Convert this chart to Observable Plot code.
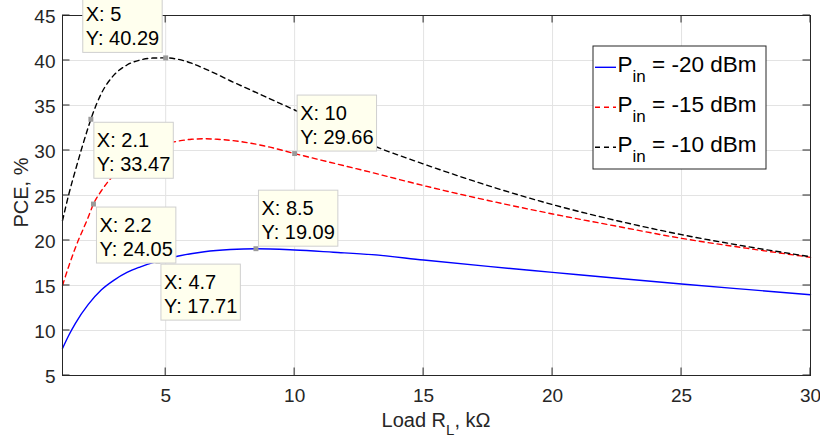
<!DOCTYPE html>
<html><head><meta charset="utf-8">
<script src="https://cdn.jsdelivr.net/npm/d3@7"></script>
<script src="https://cdn.jsdelivr.net/npm/@observablehq/plot@0.6"></script>
<style>
body{margin:0;background:#fff;}
#chart{position:relative;width:820px;height:440px;}
#chart svg{overflow:visible}
</style></head><body><div id="chart"></div>
<script>
// ---- data ----
const seriesNames = ["-20 dBm", "-15 dBm", "-10 dBm"];
const xBlue = [1,1.25,1.5,2,2.5,3,3.5,4,4.7,5.5,6.5,7.5,8.5,10,11.5,13,15,17.5,20,22.5,25,27.5,30];
const yBlue = [8.0,9.5,10.8,12.9,14.5,15.6,16.45,17.05,17.71,18.28,18.75,19.0,19.09,18.95,18.7,18.43,17.83,17.12,16.46,15.8,15.17,14.57,13.98];
const xRed = [1,1.25,1.5,2,2.2,2.5,3,3.5,4,4.5,5,5.5,6,6.5,7,8,9,10,11,12,13,15,17.5,20,22.5,25,27.5,30];
const yRed = [15,17.2,19.2,22.6,24.05,25.5,27.3,28.6,29.55,30.25,30.75,31.05,31.25,31.3,31.25,30.95,30.4,29.66,28.95,28.25,27.55,26.1,24.45,22.95,21.58,20.24,19.15,18.13];
const xBlack = [1,1.25,1.5,2,2.1,2.5,3,3.5,4,4.5,5,5.5,6,6.5,7,7.5,8,9,10,11,12,13,15,17.5,20,22.5,25,27.5,30];
const yBlack = [22.2,25.2,27.8,32.6,33.47,36.3,38.4,39.5,40.05,40.27,40.29,40.12,39.7,39.1,38.45,37.75,37.1,35.8,34.5,33.15,31.85,30.6,28.5,26.1,23.99,22.2,20.65,19.35,18.2];
const xTicks = [5,10,15,20,25,30];
const yTicks = [5,10,15,20,25,30,35,40,45];
const tipX = [5, 2.1, 2.2, 4.7, 8.5, 10];
const tipY = [40.29, 33.47, 24.05, 17.71, 19.09, 29.66];
const tipPlace = ["nw", "se", "se", "se", "ne", "ne"];

(function () {
const colors = ["#0000ff", "#ff0000", "#000000"];
const dashes = [null, "5,4", "5,4"];
const toRows = (xs, ys) => xs.map((x, i) => ({x, y: ys[i]}));
const lines = [toRows(xBlue, yBlue), toRows(xRed, yRed), toRows(xBlack, yBlack)];
const tips = tipX.map((x, i) => ({x, y: tipY[i], place: tipPlace[i]}));

const FONT = "'Liberation Sans', Arial, Helvetica, sans-serif";
const INK = "#262626";

const plot = Plot.plot({
  width: 820, height: 440,
  marginLeft: 62, marginRight: 10, marginTop: 15, marginBottom: 65,
  x: {domain: [1, 30]},
  y: {domain: [5, 45]},
  style: {fontFamily: FONT, fontSize: "19px", color: INK, background: "white", overflow: "visible"},
  marks: [
    Plot.gridX(xTicks, {stroke: "#e3e3e3", strokeOpacity: 1}),
    Plot.gridY(yTicks, {stroke: "#e3e3e3", strokeOpacity: 1}),
    ...lines.map((rows, i) => Plot.line(rows, {x: "x", y: "y", stroke: colors[i], strokeWidth: 1.4,
      strokeDasharray: dashes[i], curve: "monotone-x"})),
    Plot.frame({stroke: INK, strokeWidth: 1}),
    Plot.axisX(xTicks, {tickSize: 0, tickPadding: 13, label: null, fontSize: 19, fill: INK}),
    Plot.axisY(yTicks, {tickSize: 0, tickPadding: 7, label: null, fontSize: 19, fill: INK, dy: 1}),
    Plot.dot(tips, {x: "x", y: "y", symbol: "square", r: 2.8, fill: "#9a9a9a", stroke: "none"})
  ]
});
document.getElementById("chart").appendChild(plot);

const sx = plot.scale("x"), sy = plot.scale("y");
const svg = d3.select(plot);
const L0 = 62, R0 = 810, T0 = 15, B0 = 375, TL = 7.5;
const g = svg.append("g").attr("stroke", INK).attr("stroke-width", 1);
xTicks.forEach(t => {
  const px = sx.apply(t);
  g.append("line").attr("x1", px).attr("x2", px).attr("y1", B0).attr("y2", B0 - TL);
  g.append("line").attr("x1", px).attr("x2", px).attr("y1", T0).attr("y2", T0 + TL);
});
yTicks.forEach(t => {
  const py = sy.apply(t);
  g.append("line").attr("x1", L0).attr("x2", L0 + TL).attr("y1", py).attr("y2", py);
  g.append("line").attr("x1", R0).attr("x2", R0 - TL).attr("y1", py).attr("y2", py);
});

// axis labels
const xl = svg.append("text").attr("x", (L0 + R0) / 2).attr("y", 426.5)
  .attr("text-anchor", "middle").attr("font-family", FONT).attr("font-size", 20).attr("fill", INK);
xl.append("tspan").text("Load R");
xl.append("tspan").attr("dy", 8).attr("font-size", 15).text("L");
xl.append("tspan").attr("dy", -8).text(", k\u03A9");
svg.append("text").attr("transform", "translate(28,192.5) rotate(-90)")
  .attr("text-anchor", "middle").attr("font-family", FONT).attr("font-size", 20).attr("fill", INK)
  .text("PCE, %");

// data tips
tips.forEach(d => {
  const px = sx.apply(d.x), py = sy.apply(d.y);
  const tg = svg.append("g").attr("font-family", FONT).attr("font-size", 20).attr("fill", "#000")
    .attr("text-anchor", "start");
  const rect = tg.append("rect").attr("fill", "#ffffee").attr("stroke", "#cfcfcf").attr("stroke-width", 1);
  const t1 = tg.append("text").text("X: " + d.x);
  const t2 = tg.append("text").text("Y: " + d.y.toFixed(2));
  const w = Math.max(t1.node().getComputedTextLength(), t2.node().getComputedTextLength()) + 6;
  const h = 56;
  let bx, by;
  if (d.place === "se") { bx = px + 3.5; by = py + 3.5; }
  else if (d.place === "ne") { bx = px + 3; by = py - 2 - h; }
  else { bx = px - 3 - w; by = py - 5 - h; }
  rect.attr("x", bx).attr("y", by).attr("width", w).attr("height", h);
  t1.attr("x", bx + 3).attr("y", by + 24.5);
  t2.attr("x", bx + 3).attr("y", by + 49);
});

// legend
const lg = svg.append("g").attr("font-family", FONT).attr("fill", "#000").attr("text-anchor", "start");
lg.append("rect").attr("x", 593).attr("y", 46).attr("width", 173).attr("height", 123)
  .attr("fill", "white").attr("stroke", INK).attr("stroke-width", 1);
seriesNames.forEach((name, i) => {
  const ly = 67.3 + 40 * i;
  lg.append("line").attr("x1", 595).attr("x2", 616).attr("y1", ly).attr("y2", ly)
    .attr("stroke", colors[i]).attr("stroke-width", 1.4).attr("stroke-dasharray", dashes[i]);
  const t = lg.append("text").attr("x", 617.5).attr("y", ly + 4.5).attr("font-size", 22.5);
  t.append("tspan").text("P");
  t.append("tspan").attr("dy", 10).attr("font-size", 17).text("in");
  t.append("tspan").attr("dy", -10).text(" = " + name);
});
})();
</script></body></html>
